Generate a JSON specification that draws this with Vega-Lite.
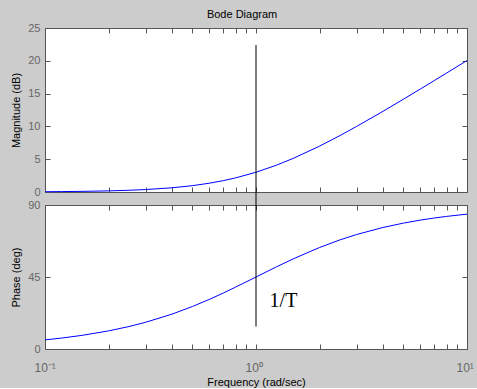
{
  "$schema": "https://vega.github.io/schema/vega-lite/v6.json",
  "background": "#cccccc",
  "padding": {"left": 10, "top": 8, "right": 10, "bottom": 0},
  "title": {"text": "Bode Diagram", "fontSize": 11, "fontWeight": "normal", "font": "Liberation Sans", "color": "black", "offset": 2, "anchor": "middle"},
  "config": {
    "font": "Liberation Sans",
    "view": {"fill": "white", "stroke": "#555555", "strokeWidth": 1},
    "axis": {"domain": false, "grid": false, "tickColor": "#555555", "tickSize": -5, "labelColor": "#666666", "labelFontSize": 11, "labelFont": "Liberation Sans", "titleFont": "Liberation Sans", "titleFontSize": 11, "titleFontWeight": "normal", "titleColor": "black"}
  },
  "datasets": {
    "curve": [
      {"w": 0.1, "mag": 0.043, "ph": 5.71},
      {"w": 0.12, "mag": 0.062, "ph": 6.84},
      {"w": 0.15, "mag": 0.097, "ph": 8.53},
      {"w": 0.2, "mag": 0.170, "ph": 11.31},
      {"w": 0.25, "mag": 0.263, "ph": 14.04},
      {"w": 0.3, "mag": 0.374, "ph": 16.70},
      {"w": 0.4, "mag": 0.645, "ph": 21.80},
      {"w": 0.5, "mag": 0.969, "ph": 26.57},
      {"w": 0.6, "mag": 1.335, "ph": 30.96},
      {"w": 0.7, "mag": 1.732, "ph": 34.99},
      {"w": 0.8, "mag": 2.148, "ph": 38.66},
      {"w": 1.0, "mag": 3.010, "ph": 45.0},
      {"w": 1.25, "mag": 4.086, "ph": 51.34},
      {"w": 1.5, "mag": 5.119, "ph": 56.31},
      {"w": 2.0, "mag": 6.990, "ph": 63.43},
      {"w": 2.5, "mag": 8.603, "ph": 68.20},
      {"w": 3.0, "mag": 10.0, "ph": 71.57},
      {"w": 4.0, "mag": 12.304, "ph": 75.96},
      {"w": 5.0, "mag": 14.150, "ph": 78.69},
      {"w": 6.0, "mag": 15.682, "ph": 80.54},
      {"w": 7.0, "mag": 16.990, "ph": 81.87},
      {"w": 8.0, "mag": 18.129, "ph": 82.87},
      {"w": 10.0, "mag": 20.043, "ph": 84.29}
    ],
    "ruleTop": [{"w": 1, "y1": 22.4, "y2": -2}],
    "ruleBottom": [{"w": 1, "y1": 14, "y2": 90}],
    "note": [{"w": 1.16, "ph": 26.4, "label": "1/T"}]
  },
  "spacing": 13,
  "bounds": "flush",
  "vconcat": [
    {
      "width": 422,
      "height": 164,
      "layer": [
        {
          "data": {"name": "curve"},
          "mark": {"type": "line", "color": "#0000ff", "strokeWidth": 1},
          "encoding": {
            "x": {"field": "w", "type": "quantitative", "scale": {"type": "log", "domain": [0.1, 10], "nice": false},
                  "axis": {"orient": "bottom", "values": [0.1,0.2,0.3,0.4,0.5,0.6,0.7,0.8,0.9,1,2,3,4,5,6,7,8,9,10], "labels": false, "title": null}},
            "y": {"field": "mag", "type": "quantitative", "scale": {"domain": [0, 25], "nice": false, "zero": false},
                  "axis": {"orient": "left", "values": [0, 5, 10, 15, 20, 25], "title": "Magnitude (dB)", "labelPadding": 10, "titlePadding": 6}}
          }
        },
        {
          "data": {"name": "ruleTop"},
          "mark": {"type": "rule", "color": "black", "strokeWidth": 1},
          "encoding": {
            "x": {"field": "w", "type": "quantitative", "scale": {"type": "log", "domain": [0.1, 10], "nice": false},
                  "axis": {"orient": "top", "values": [0.1,0.2,0.3,0.4,0.5,0.6,0.7,0.8,0.9,1,2,3,4,5,6,7,8,9,10], "labels": false, "title": null}},
            "y": {"field": "y1", "type": "quantitative", "scale": {"domain": [0, 25], "nice": false, "zero": false},
                  "axis": {"orient": "right", "values": [0, 5, 10, 15, 20, 25], "labels": false, "title": null}},
            "y2": {"field": "y2"}
          }
        }
      ],
      "resolve": {"axis": {"x": "independent", "y": "independent"}}
    },
    {
      "width": 422,
      "height": 144,
      "layer": [
        {
          "data": {"name": "curve"},
          "mark": {"type": "line", "color": "#0000ff", "strokeWidth": 1},
          "encoding": {
            "x": {"field": "w", "type": "quantitative", "scale": {"type": "log", "domain": [0.1, 10], "nice": false},
                  "axis": {"orient": "bottom", "values": [0.1,0.2,0.3,0.4,0.5,0.6,0.7,0.8,0.9,1,2,3,4,5,6,7,8,9,10],
                           "labelExpr": "datum.value == 0.1 ? '10⁻¹' : datum.value == 1 ? '10⁰' : datum.value == 10 ? '10¹' : ''",
                           "labelAlign": "left", "labelOffset": -11, "labelPadding": 18, "labelFontSize": 12, "labelFlush": false, "labelOverlap": false,
                           "title": "Frequency  (rad/sec)", "titlePadding": 3}},
            "y": {"field": "ph", "type": "quantitative", "scale": {"domain": [0, 90], "nice": false, "zero": false},
                  "axis": {"orient": "left", "values": [0, 45, 90], "title": "Phase (deg)", "labelPadding": 10, "titlePadding": 6}}
          }
        },
        {
          "data": {"name": "ruleBottom"},
          "mark": {"type": "rule", "color": "black", "strokeWidth": 1},
          "encoding": {
            "x": {"field": "w", "type": "quantitative", "scale": {"type": "log", "domain": [0.1, 10], "nice": false},
                  "axis": {"orient": "top", "values": [0.1,0.2,0.3,0.4,0.5,0.6,0.7,0.8,0.9,1,2,3,4,5,6,7,8,9,10], "labels": false, "title": null}},
            "y": {"field": "y1", "type": "quantitative", "scale": {"domain": [0, 90], "nice": false, "zero": false},
                  "axis": {"orient": "right", "values": [0, 45, 90], "labels": false, "title": null}},
            "y2": {"field": "y2"}
          }
        },
        {
          "data": {"name": "note"},
          "mark": {"type": "text", "font": "Liberation Serif", "fontSize": 20, "align": "left", "baseline": "alphabetic", "color": "black"},
          "encoding": {
            "x": {"field": "w", "type": "quantitative", "axis": null},
            "y": {"field": "ph", "type": "quantitative", "axis": null},
            "text": {"field": "label"}
          }
        }
      ],
      "resolve": {"axis": {"x": "independent", "y": "independent"}}
    }
  ]
}
